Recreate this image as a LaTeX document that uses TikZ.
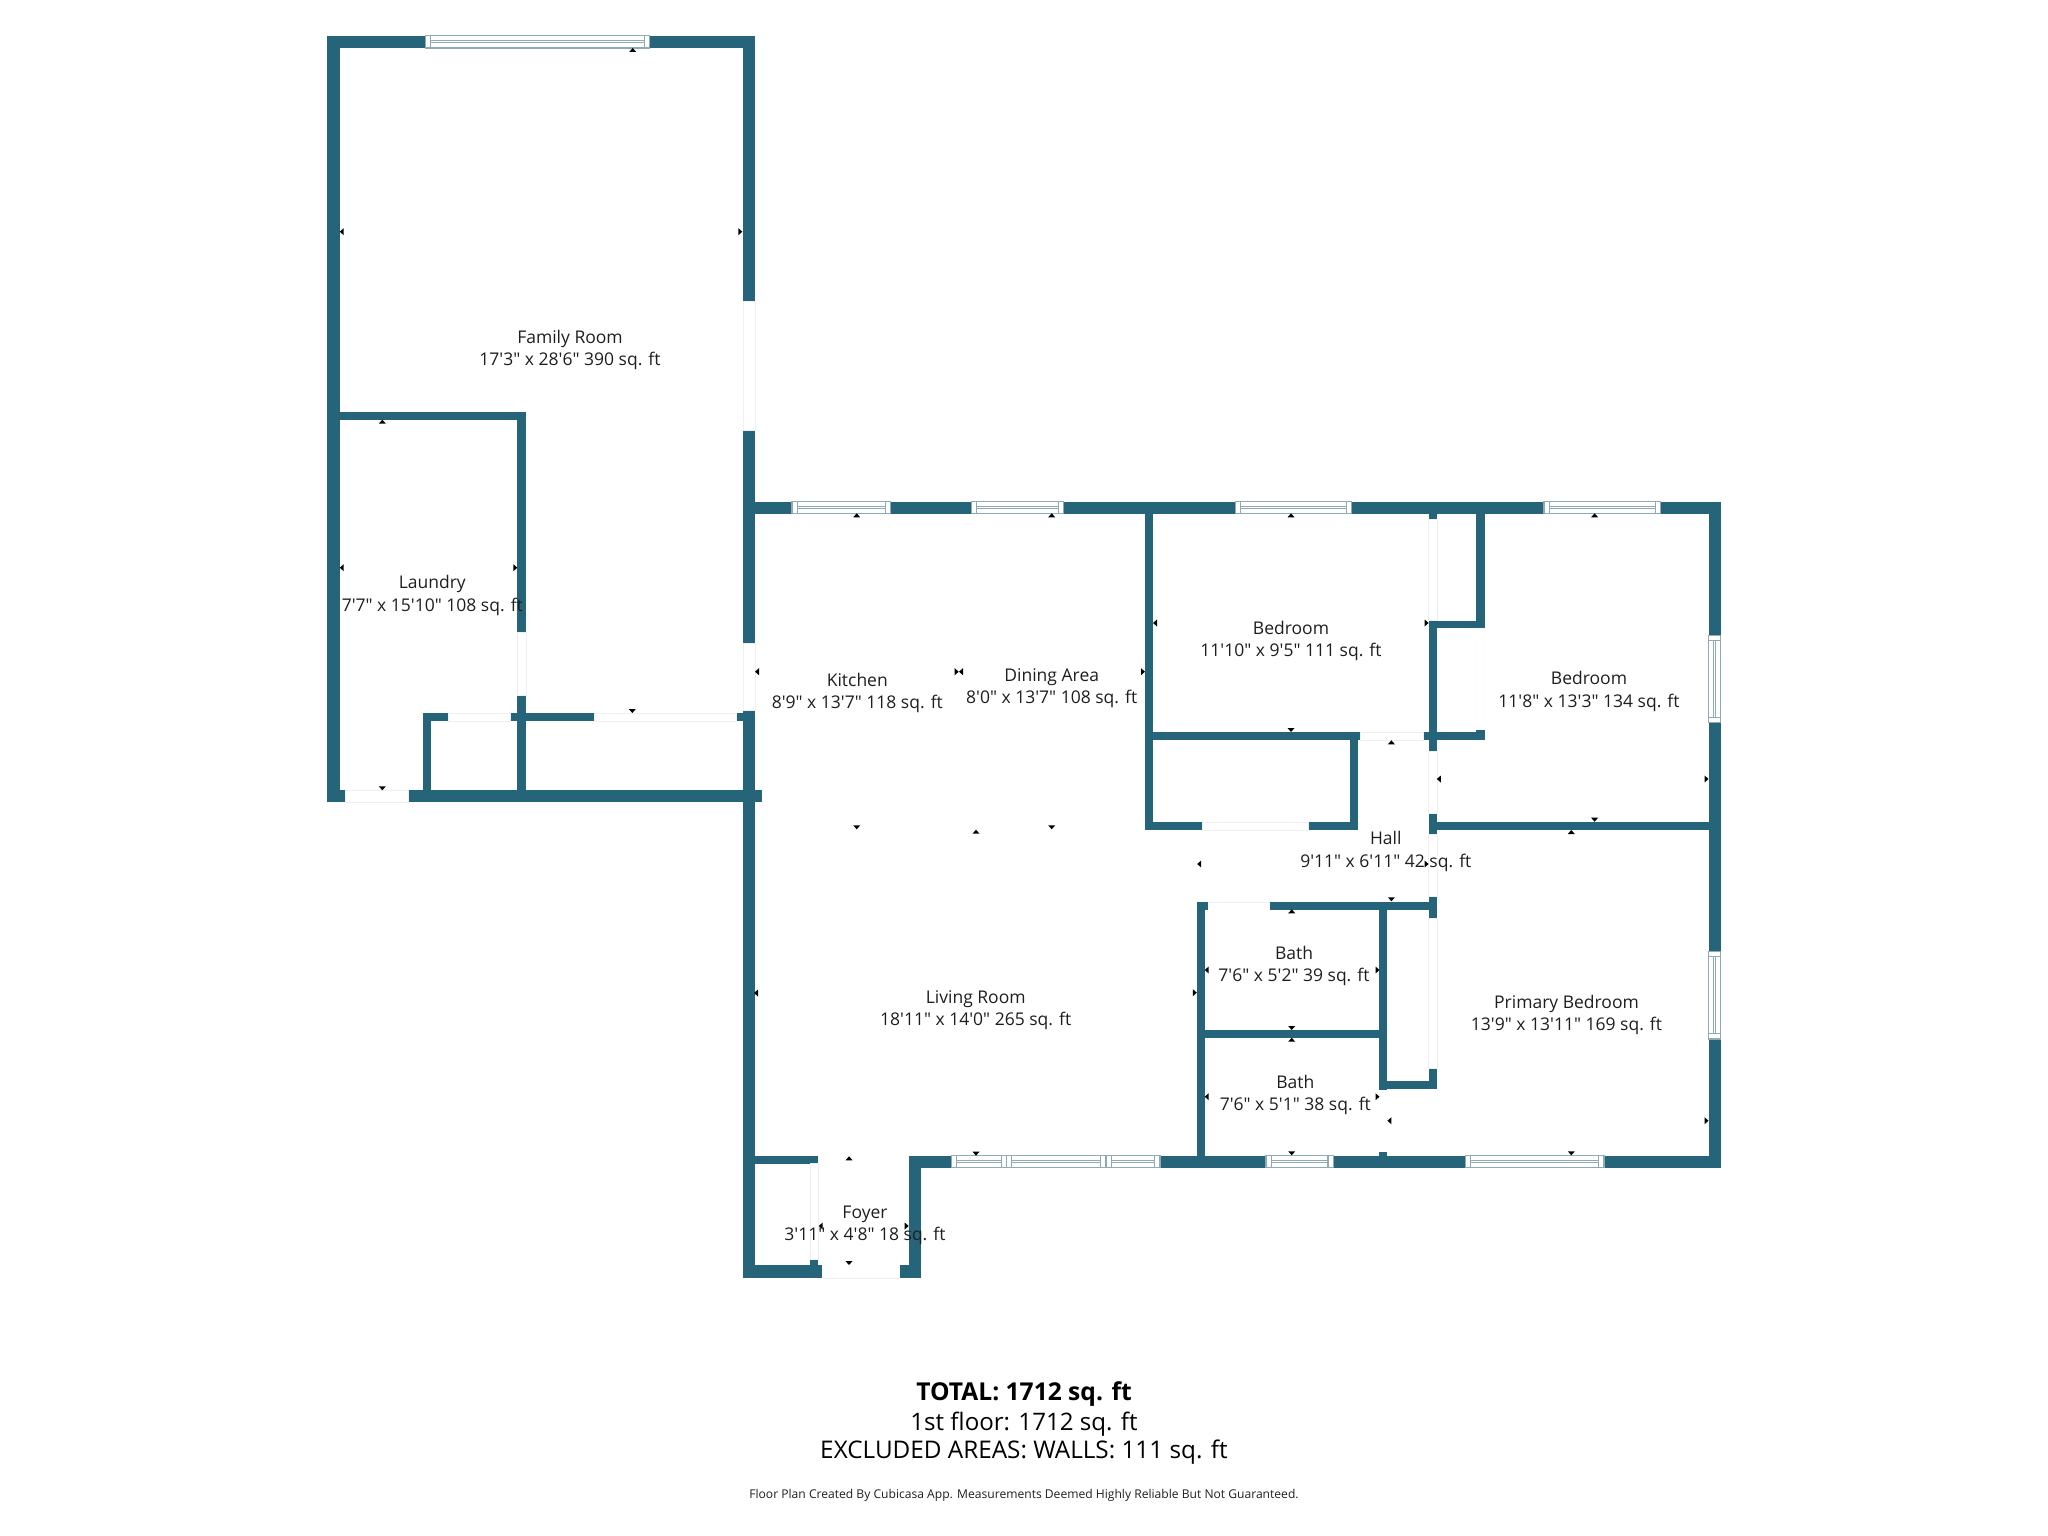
\documentclass[tikz,border=0pt]{standalone}
\usepackage{fontspec}
\newfontfamily\planfont{Open Sans}
\definecolor{wallblue}{HTML}{26647A}
\definecolor{winblue}{HTML}{8FAAB3}
\definecolor{doorgray}{HTML}{EDF0F1}
\definecolor{labelblack}{HTML}{1E1E1E}
\tikzset{
  wall/.style={fill=wallblue},
  winline/.style={draw=winblue,line width=1.1pt},
  doorgap/.style={draw=doorgray,fill=white,line width=.9pt},
  faintgap/.style={draw=doorgray!25,fill=white,line width=.8pt},
  tick/.style={fill=black},
  room/.style={inner sep=0pt,align=center,text=labelblack,font=\planfont\fontsize{17.5}{22.3}\selectfont},
}
\begin{document}
\begin{tikzpicture}[x=1pt,y=-1pt]
  \useasboundingbox (0,0) rectangle (2048,1536);

  % walls
  \foreach \xa/\ya/\xb/\yb in {
    327.3/35.7/425.7/48, 649.3/35.7/755.3/48,
    327.3/35.7/339.7/802.3, 743/35.7/755.3/301.3, 743/430.7/755.3/643.3, 743/710.7/755.3/1278,
    339/412/526/420, 517.3/412/526/632.7, 517.3/695.3/526/802.3,
    327.3/790/345/802.3, 408.7/790/762/802.3,
    422.7/712.7/430.7/802.3, 422.7/712.7/448.3/721.3, 510.7/712.7/594.7/721.3, 736/712.7/743/721.3,
    743/501.7/792/513.7, 890.7/501.7/971.3/513.7, 1063.3/501.7/1235.6/513.7,
    1351.8/501.7/1544/513.7, 1660.6/501.7/1720.7/513.7,
    1144.7/501.7/1153.2/830, 1144.7/732.3/1360.9/740.3,
    1144.7/821.7/1202/830, 1308.7/821.7/1357.8/830, 1349.5/732.3/1357.8/830,
    1428.5/501.7/1437.2/519, 1428.5/620/1437.2/751, 1428.5/813.7/1437.2/834,
    1428.5/896.7/1437.2/918.7, 1428.5/1068/1437.2/1088.7,
    1428.5/620.7/1484.7/628.3, 1476.4/501.7/1484.7/628.3,
    1423.8/732.3/1484.7/740.3, 1476.4/729.3/1484.7/740.3,
    1437/821.7/1708.5/830,
    1708.5/501.7/1720.7/635.7, 1708.5/722.7/1720.7/951.7, 1708.5/1039/1720.7/1167.7,
    1196.8/901.7/1207.9/909.7, 1270.4/901.7/1437/909.7,
    1196.8/901.7/1205.1/1160, 1205/1030/1379/1038,
    1379/905/1387.4/1090, 1379/1152/1387.4/1160, 1379/1080.7/1437/1088.7,
    909/1155.7/951.7/1167.7, 1160/1155.7/1266/1167.7, 1333.2/1155.7/1465.7/1167.7, 1604/1155.7/1720.7/1167.7,
    755/1155.7/818.3/1163.7, 909/1155.7/921/1278,
    743/1265.3/822.3/1278, 900/1265.3/921/1278, 810/1259.3/818.3/1265.3
  } \fill[wall] (\xa,\ya) rectangle (\xb,\yb);

  % door gaps
  \foreach \xa/\ya/\xb/\yb in {
    743/301.3/755.3/430.7, 743/643.3/755.3/710.7, 517.3/632.7/526/695.3,
    345/790.5/408.7/802.3, 448.3/713/510.7/721.3, 594.7/713/736/721.3,
    1202/822/1308.7/830, 1360.9/732.5/1423.8/740.3,
    1428.5/519/1437.2/620, 1428.5/751/1437.2/813.7, 1428.5/834/1437.2/896.7, 1428.5/918.7/1437.2/1068,
    810/1163.7/818.3/1259.3
  } \path[doorgap] (\xa,\ya) rectangle (\xb,\yb);
  \path[faintgap] (1476.4,628.3) rectangle (1484.7,729.3);
  \draw[doorgray,line width=.9pt] (822.3,1278) -- (900,1278);
  \draw[doorgray,line width=.9pt] (1207.9,902) -- (1270.4,902);

  % windows along a wall
  \foreach \xa/\xb/\ya/\yb in {
    425.7/649.3/35.7/48, 792/890.7/501.7/513.7, 971.3/1063.3/501.7/513.7,
    1235.6/1351.8/501.7/513.7, 1544/1660.6/501.7/513.7,
    951.7/1006.7/1155.7/1167.5, 1006.7/1106/1155.7/1167.5, 1106/1160/1155.7/1167.5,
    1266/1333.2/1155.7/1167.5, 1465.7/1604/1155.7/1167.5
  } {
    \pgfmathsetmacro{\capa}{\xa+5.2}
    \pgfmathsetmacro{\capb}{\xb-5.2}
    \pgfmathsetmacro{\mida}{(\ya+\yb)/2-1}
    \pgfmathsetmacro{\midb}{(\ya+\yb)/2+1}
    \draw[winline,fill=white] (\xa,\ya) rectangle (\xb,\yb);
    \draw[winline] (\capa,\ya) -- (\capa,\yb) (\capb,\ya) -- (\capb,\yb);
    \draw[winline] (\capa,\mida) -- (\capb,\mida) (\capa,\midb) -- (\capb,\midb);
  }
  \foreach \ya/\yb in {635.7/722.7, 951.7/1039} {
    \pgfmathsetmacro{\capa}{\ya+5.2}
    \pgfmathsetmacro{\capb}{\yb-5.2}
    \draw[winline,fill=white] (1708.5,\ya) rectangle (1720.7,\yb);
    \draw[winline] (1708.5,\capa) -- (1720.7,\capa) (1708.5,\capb) -- (1720.7,\capb);
    \draw[winline] (1713.6,\capa) -- (1713.6,\capb) (1715.6,\capa) -- (1715.6,\capb);
  }

  % measure ticks
  \foreach \x/\y in {632.7/50, 382.3/421.7, 856.7/515.3, 1051.7/515.3, 976/831.7, 1291/515.3, 1594.6/515.3,
    1391.4/742.3, 1571.3/832, 1291.7/911.3, 1291.7/1039.7, 849/1158.3}
    \fill[tick] (\x-3.5,\y+2) -- (\x+3.5,\y+2) -- (\x,\y-2) -- cycle;
  \foreach \x/\y in {382.3/788.3, 632.3/711, 856.7/827.3, 1051.7/827.3, 976/1153.7, 1291/730, 1594.6/819.7,
    1391.4/899.3, 1291.7/1028, 1291.7/1153.3, 1571.3/1153.3, 849/1263}
    \fill[tick] (\x-3.5,\y-2) -- (\x+3.5,\y-2) -- (\x,\y+2) -- cycle;
  \foreach \x/\y in {341.7/231.7, 341.7/567.7, 757/671.7, 961/671.7, 1155/623, 1438.8/779, 1199.2/864,
    756/993, 1206.7/970, 1206.7/1096.7, 1389.4/1120.7, 820.7/1226}
    \fill[tick] (\x+2,\y-3.5) -- (\x+2,\y+3.5) -- (\x-2,\y) -- cycle;
  \foreach \x/\y in {740.3/231.7, 515.3/567.7, 956.7/671.7, 1143/671.7, 1426.6/623, 1706.5/779, 1426.6/864,
    1194.8/992.7, 1377.5/970, 1377.5/1096.7, 1706.5/1120.7, 906.7/1226}
    \fill[tick] (\x-2,\y-3.5) -- (\x-2,\y+3.5) -- (\x+2,\y) -- cycle;

  % room labels
  \node[room] (family) at (570,350.3) {Family Room\\17'3" x 28'6" 390 sq. ft};
  \node[room] (laundry) at (432.3,595.3) {Laundry\\7'7" x 15'10" 108 sq. ft};
  \node[room] (kitchen) at (857.3,693) {Kitchen\\8'9" x 13'7" 118 sq. ft};
  \node[room] (dining) at (1051.7,688.3) {Dining Area\\8'0" x 13'7" 108 sq. ft};
  \node[room] (bedroomA) at (1291,640.8) {Bedroom\\11'10" x 9'5" 111 sq. ft};
  \node[room] (bedroomB) at (1589,691.3) {Bedroom\\11'8" x 13'3" 134 sq. ft};
  \node[room] (hall) at (1385.8,851.3) {Hall\\9'11" x 6'11" 42 sq. ft};
  \node[room] (bathA) at (1294,966) {Bath\\7'6" x 5'2" 39 sq. ft};
  \node[room] (bathB) at (1295.3,1094.6) {Bath\\7'6" x 5'1" 38 sq. ft};
  \node[room] (primary) at (1566.5,1014.8) {Primary Bedroom\\13'9" x 13'11" 169 sq. ft};
  \node[room] (living) at (975.7,1010) {Living Room\\18'11" x 14'0" 265 sq. ft};
  \node[room] (foyer) at (865,1225.3) {Foyer\\3'11" x 4'8" 18 sq. ft};

  % totals
  \node[inner sep=0pt,font=\planfont\bfseries\fontsize{24.6}{29}\selectfont] (total) at (1024,1394.5) {TOTAL: 1712 sq. ft};
  \node[inner sep=0pt,font=\planfont\fontsize{24.1}{29}\selectfont] (floor) at (1024,1423.8) {1st floor: 1712 sq. ft};
  \node[inner sep=0pt,font=\planfont\fontsize{24.3}{29}\selectfont] (excluded) at (1024,1452.5) {EXCLUDED AREAS: WALLS: 111 sq. ft};
  \node[inner sep=0pt,text=labelblack,font=\planfont\fontsize{12.1}{14}\selectfont] (credit) at (1024,1495.8) {Floor Plan Created By Cubicasa App. Measurements Deemed Highly Reliable But Not Guaranteed.};
\end{tikzpicture}
\end{document}
